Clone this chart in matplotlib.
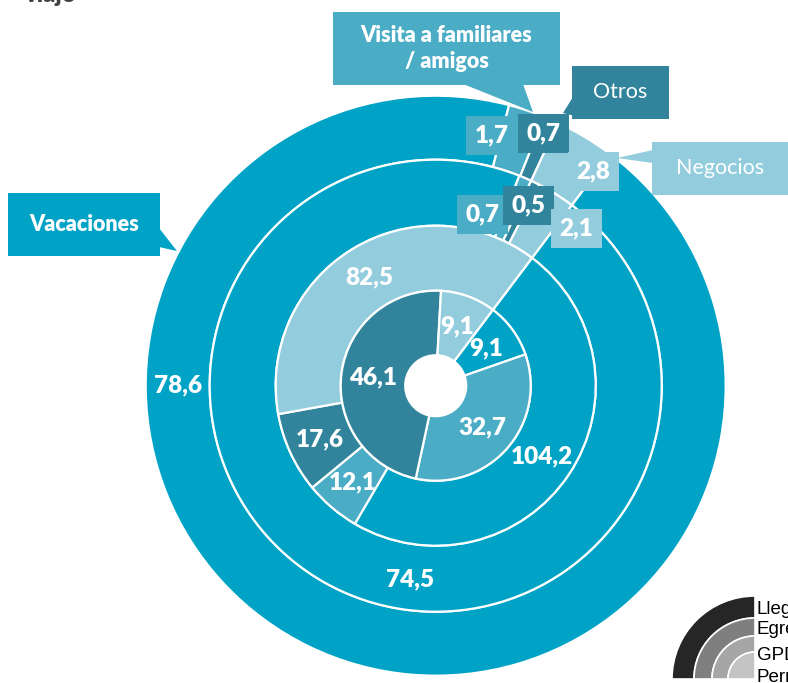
import numpy as np
import matplotlib
matplotlib.use('Agg')
import matplotlib.pyplot as plt
from matplotlib.patches import Polygon, Rectangle, Wedge

plt.rcParams['font.family'] = ['Lato', 'DejaVu Sans']

# motivos de viaje (orden horario desde el corte superior derecho)
motivos = ['Vacaciones', 'Visita a familiares / amigos', 'Otros', 'Negocios']
colores = ['#00A3C6', '#4BACC6', '#31849B', '#93CDDD']

# anillos de fuera hacia dentro
llegadas = [78.6, 1.7, 0.7, 2.8]
egresos = [74.5, 0.7, 0.5, 2.1]
gpd = [104.2, 12.1, 17.6, 82.5]
pernoctaciones = [9.1, 32.7, 46.1, 9.1]
anillos = [llegadas, egresos, gpd, pernoctaciones]

leyenda = ['Llegadas', 'Egresos', 'GPD', 'Pernoctaciones']
grises = ['#262626', '#7F7F7F', '#A6A6A6', '#C4C4C4']

W, H = 788, 683
fig = plt.figure(figsize=(W / 100, H / 100), dpi=100)
ax = fig.add_axes([0, 0, 1, 1])

cx, cy = 435.7, H - 385.7
radios = [290, 226, 160, 95]
anchos = [64, 66, 65, 64.5]
inicio = 53

for vals, r, w in zip(anillos, radios, anchos):
    ax.pie(vals, radius=r, center=(cx, cy), startangle=inicio, counterclock=False,
           colors=colores, wedgeprops=dict(width=w, edgecolor='white', linewidth=1.6))


def fmt(v):
    return f'{v:.1f}'.replace('.', ',')


# etiquetas con caja para los sectores pequenos (desplazamiento en px)
desplaz = {(0, 1): (-25, 5), (0, 2): (5, 16), (0, 3): (25, -7),
           (1, 1): (-30, -6), (1, 2): (8, 7), (1, 3): (38, -6)}
angulo_fijo = {(0, 0): (180, 258), (1, 0): (-97.5, 195)}

for i, (vals, r, w) in enumerate(zip(anillos, radios, anchos)):
    tot = sum(vals)
    acum = np.cumsum([0] + vals)
    rm = r - w / 2
    for j, v in enumerate(vals):
        a1 = inicio - 360 * acum[j] / tot
        a2 = inicio - 360 * acum[j + 1] / tot
        ang = (a1 + a2) / 2
        rr = rm
        if (i, j) in angulo_fijo:
            ang, rr = angulo_fijo[(i, j)]
        x = cx + rr * np.cos(np.radians(ang))
        y = cy + rr * np.sin(np.radians(ang))
        kw = dict(ha='center', va='center', color='white', fontsize=17.5,
                  fontweight='heavy', zorder=5)
        if (i, j) in desplaz:
            dx, dy = desplaz[(i, j)]
            ax.text(x + dx, y + dy, fmt(v),
                    bbox=dict(boxstyle='square,pad=0.35', fc=colores[j], ec='none'), **kw)
        else:
            ax.text(x, y, fmt(v), **kw)


def px(x, y):
    return (x, H - y)


def llamada(caja, punta, texto, color, negrita):
    x0, y0, x1, y1 = caja
    ax.add_patch(Rectangle(px(x0, y1), x1 - x0, y1 - y0, fc=color, ec='none', zorder=6))
    ax.add_patch(Polygon([px(*p) for p in punta], closed=True, fc=color, ec='none', zorder=6))
    ax.text(*px((x0 + x1) / 2, (y0 + y1) / 2), texto, ha='center', va='center',
            color='white', fontsize=15.5, fontweight='heavy' if negrita else 'normal',
            linespacing=1.25, zorder=7)


llamada((8, 193, 160, 256), [(159, 228), (177, 251), (159, 247)],
        'Vacaciones', colores[0], True)
llamada((333, 12, 560, 85), [(463, 84), (533, 112), (523, 84)],
        'Visita a familiares\n/ amigos', colores[1], True)
llamada((572, 66, 669, 119), [(573, 97), (563, 113), (582, 118)],
        'Otros', colores[2], False)
llamada((652, 142, 788, 195), [(653, 150), (617, 158), (653, 163)],
        'Negocios', colores[3], False)

# titulo (recortado arriba)
ax.text(*px(24, 2), 'viaje', ha='left', va='baseline', color='#404040',
        fontsize=17, fontweight='heavy')

# leyenda de anillos
lx, ly = px(755, 679)
for k, (nombre, g) in enumerate(zip(leyenda, grises)):
    r = [83, 61, 43, 27][k]
    ax.add_patch(Wedge((lx, ly), r, 90, 180, width=r - [61, 43, 27, 0][k],
                       fc=g, ec='white', lw=1.2, zorder=4))
for nombre, yy in zip(leyenda, [610, 630, 655, 678]):
    ax.text(*px(757, yy), nombre, ha='left', va='center', color='black',
            fontsize=13.5, family=['Liberation Sans', 'DejaVu Sans'])

ax.set_xlim(0, W)
ax.set_ylim(0, H)
ax.set_aspect('equal')
ax.set_axis_off()
fig.savefig('out.png', dpi=100)
